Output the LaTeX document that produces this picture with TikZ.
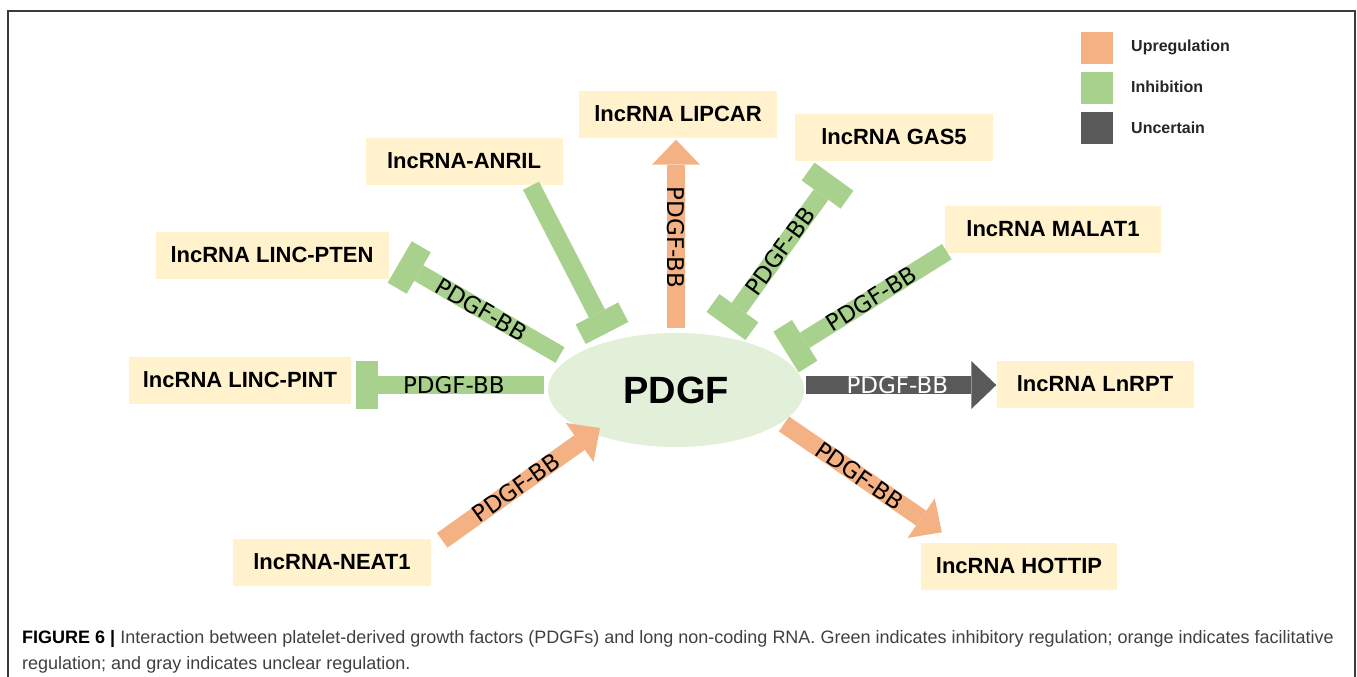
\documentclass[tikz,border=0pt]{standalone}
\usepackage{fontspec}
\usepackage{tikz}
\usetikzlibrary{arrows.meta, shapes.geometric}
\setmainfont{Liberation Sans}
\newfontfamily\bbfont{DejaVu Sans}
\definecolor{up_orange}{HTML}{F4B183}
\definecolor{inh_green}{HTML}{A9D18E}
\definecolor{unc_gray}{HTML}{595959}
\definecolor{box_yellow}{HTML}{FFF2CC}
\definecolor{core_green}{HTML}{E2F0D9}
\definecolor{frame_gray}{HTML}{3A3A3A}
\definecolor{caption_gray}{HTML}{404040}

\begin{document}
\begin{tikzpicture}[
        x=1pt, y=-1pt,
        lnc/.style={fill=box_yellow, inner sep=0pt, minimum height=47pt,
            font=\bfseries\fontsize{22}{26}\selectfont},
        core/.style={ellipse, fill=core_green, inner sep=0pt,
            minimum width=256pt, minimum height=114pt,
            font=\bfseries\fontsize{38}{44}\selectfont},
        link/.style={line width=18pt},
        upreg/.style={link, up_orange, -{Triangle[width=48pt, length=25pt, line width=0pt]}},
        uncert/.style={link, unc_gray, -{Triangle[width=48pt, length=25pt, line width=0pt]}},
        inhib/.style={link, inh_green, -{Rectangle[width=48pt, length=22pt, line width=0pt]}},
        inhibboth/.style={link, inh_green,
            {Rectangle[width=48pt, length=22pt, line width=0pt]}-{Rectangle[width=48pt, length=22pt, line width=0pt]}},
        bb/.style={inner sep=0pt, text=black, font=\bbfont\fontsize{23}{26}\selectfont},
        legsq/.style={minimum size=32pt, inner sep=0pt},
        legtxt/.style={anchor=west, inner sep=0pt, text=black!85,
            font=\bfseries\fontsize{16}{19}\selectfont},
        captxt/.style={anchor=base west, inner sep=0pt, text=caption_gray,
            font=\fontsize{18}{21}\selectfont}
    ]
    \useasboundingbox (0,0) rectangle (1357,677);

    % Frame
    \draw[frame_gray, line width=1.5pt] (8,690) -- (8,11) -- (1355,11) -- (1355,690);

    % Centre and lncRNA boxes
    \node[core] (pdgf) at (676,390) {PDGF};
    \node[lnc, minimum width=198pt] (lipcar) at (678,114) {lncRNA LIPCAR};
    \node[lnc, minimum width=198pt] (gas5) at (894,137) {lncRNA GAS5};
    \node[lnc, minimum width=197pt] (anril) at (464,161) {lncRNA-ANRIL};
    \node[lnc, minimum width=233pt] (pten) at (272,255) {lncRNA LINC-PTEN};
    \node[lnc, minimum width=222pt] (pint) at (240,380) {lncRNA LINC-PINT};
    \node[lnc, minimum width=198pt] (neat1) at (332,562) {lncRNA-NEAT1};
    \node[lnc, minimum width=216pt] (malat1) at (1053,229) {lncRNA MALAT1};
    \node[lnc, minimum width=197pt] (lnrpt) at (1095,384) {lncRNA LnRPT};
    \node[lnc, minimum width=196pt] (hottip) at (1019,566) {lncRNA HOTTIP};

    % Connectors
    \draw[upreg] ([shift={(0,-62)}]pdgf.center) -- ([shift={(-2,2)}]lipcar.south)
        node[bb, pos=0.48, rotate=-90] {PDGF-BB};
    \draw[inhibboth] ([shift={(50,-64)}]pdgf.center) -- ([shift={(-60,16)}]gas5.south)
        node[bb, pos=0.5, sloped] {PDGF-BB};
    \draw[inhib] ([shift={(67,1)}]anril.south) -- ([shift={(-69,-57)}]pdgf.center);
    \draw[inhib] ([shift={(-116,-35)}]pdgf.center) -- ([shift={(11,7)}]pten.east)
        node[bb, pos=0.49, sloped] {PDGF-BB};
    \draw[inhib] ([shift={(-132,-5)}]pdgf.center) -- ([shift={(5,5)}]pint.east)
        node[bb, pos=0.48] {PDGF-BB};
    \draw[upreg] ([shift={(11,2)}]neat1.north east) -- ([shift={(-76,38)}]pdgf.center)
        node[bb, pos=0.47, sloped] {PDGF-BB};
    \draw[inhib] ([shift={(2,-1)}]malat1.south west) -- ([shift={(110,-38)}]pdgf.center)
        node[bb, pos=0.47, sloped] {PDGF-BB};
    \draw[uncert] ([shift={(130,-5)}]pdgf.center) -- ([shift={(0,1)}]lnrpt.west)
        node[bb, pos=0.48, text=white] {PDGF-BB};
    \draw[upreg] ([shift={(108,34)}]pdgf.center) -- ([shift={(21,-10)}]hottip.north west)
        node[bb, pos=0.48, sloped] {PDGF-BB};

    % Legend
    \node[legsq, fill=up_orange] (legup) at (1097,48) {};
    \node[legsq, fill=inh_green] (leginh) at (1097,88) {};
    \node[legsq, fill=unc_gray] (legunc) at (1097,128) {};
    \node[legtxt] at (1131,47) {Upregulation};
    \node[legtxt] at (1131,87) {Inhibition};
    \node[legtxt] at (1131,128) {Uncertain};

    % Caption
    \node[captxt] (cap1) at (22,643) {\textcolor{black}{\bfseries FIGURE 6 |} Interaction between platelet-derived growth factors (PDGFs) and long non-coding RNA. Green indicates inhibitory regulation; orange indicates facilitative};
    \node[captxt] (cap2) at (22,669) {regulation; and gray indicates unclear regulation.};
\end{tikzpicture}
\end{document}
